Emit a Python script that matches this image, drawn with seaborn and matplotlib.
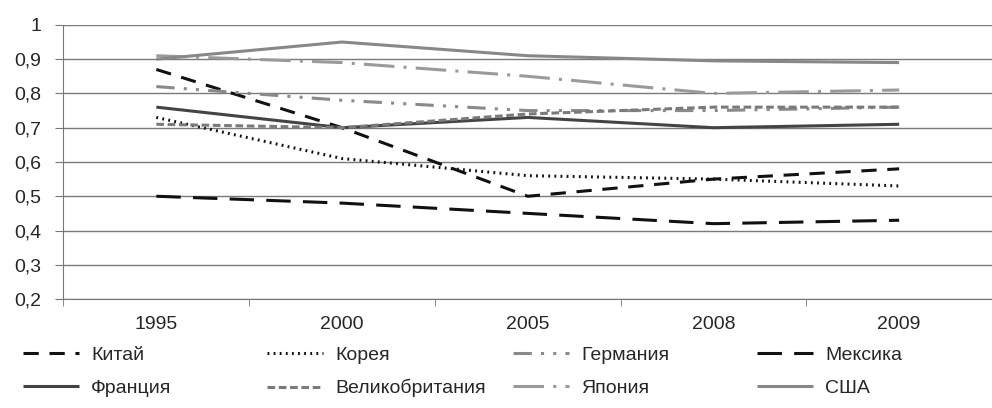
import pandas as pd
import seaborn as sns
import matplotlib.pyplot as plt

# Data
years = ['1995', '2000', '2005', '2008', '2009']
china = [0.87, 0.70, 0.50, 0.55, 0.58]
korea = [0.73, 0.61, 0.56, 0.55, 0.53]
germany = [0.82, 0.78, 0.75, 0.75, 0.76]
mexico = [0.50, 0.48, 0.45, 0.42, 0.43]
france = [0.76, 0.70, 0.73, 0.70, 0.71]
uk = [0.71, 0.70, 0.74, 0.76, 0.76]
japan = [0.91, 0.89, 0.85, 0.80, 0.81]
usa = [0.90, 0.95, 0.91, 0.895, 0.89]

series = {
    'Китай': china,
    'Корея': korea,
    'Германия': germany,
    'Мексика': mexico,
    'Франция': france,
    'Великобритания': uk,
    'Япония': japan,
    'США': usa,
}

palette = {
    'Китай': '#111111',
    'Корея': '#111111',
    'Германия': '#8a8a8a',
    'Мексика': '#111111',
    'Франция': '#444444',
    'Великобритания': '#7a7a7a',
    'Япония': '#9a9a9a',
    'США': '#888888',
}
dashes = {
    'Китай': (5, 3.5),
    'Корея': (0.6, 1.4),
    'Германия': (6, 3, 1, 3, 1, 3),
    'Мексика': (8, 4),
    'Франция': (1, 0),
    'Великобритания': (2.5, 1.2),
    'Япония': (10, 3, 1, 3),
    'США': (1, 0),
}

rows = []
for name, vals in series.items():
    for i, (yr, v) in enumerate(zip(years, vals)):
        rows.append({'pos': i + 0.5, 'year': yr, 'value': v, 'country': name})
df = pd.DataFrame(rows)

sns.set_style('white')
plt.rcParams['font.family'] = ['Liberation Sans', 'DejaVu Sans']

fig = plt.figure(figsize=(9.92, 4.08), dpi=100)
ax = fig.add_axes([0.064, 0.267, 0.936, 0.672])

sns.lineplot(data=df, x='pos', y='value', hue='country', style='country',
             palette=palette, dashes=dashes, linewidth=2.2, sort=False,
             ax=ax, legend=False)

ax.set_xlim(0, 5)
ax.set_ylim(0.2, 1.0)
ax.set_yticks([0.2, 0.3, 0.4, 0.5, 0.6, 0.7, 0.8, 0.9, 1.0])
ax.set_yticklabels(['0,2', '0,3', '0,4', '0,5', '0,6', '0,7', '0,8', '0,9', '1'], fontsize=14)
ax.set_xticks([i + 0.5 for i in range(len(years))])
ax.set_xticklabels(years, fontsize=14)
ax.set_xticks(range(len(years) + 1), minor=True)
ax.tick_params(axis='x', which='major', length=0, pad=12)
ax.tick_params(axis='x', which='minor', length=5, color='#777777', direction='out', bottom=True)
ax.tick_params(axis='y', length=6, color='#777777', direction='out', left=True, pad=10)
ax.set_xlabel('')
ax.set_ylabel('')
ax.grid(axis='y', color='#7a7a7a', linewidth=1.0)
ax.set_axisbelow(True)
for side in ['top', 'right']:
    ax.spines[side].set_visible(False)
ax.spines['left'].set_color('#777777')
ax.spines['bottom'].set_color('#777777')

# legend: 4 columns x 2 rows, one small legend per column
columns = [('Китай', 'Франция'), ('Корея', 'Великобритания'),
           ('Германия', 'Япония'), ('Мексика', 'США')]
col_x = [23, 267, 513, 757]
for names, x in zip(columns, col_x):
    handles = [plt.Line2D([], [], color=palette[n], linewidth=2.2, dashes=dashes[n]) for n in names]
    fig.legend(handles, list(names), loc='upper left', bbox_to_anchor=(x / 992, 1 - 346 / 408),
               frameon=False, fontsize=14, handlelength=2.9, handletextpad=0.6,
               labelspacing=0.8, borderpad=0, borderaxespad=0)

fig.savefig('out.png', dpi=100, facecolor='white')
